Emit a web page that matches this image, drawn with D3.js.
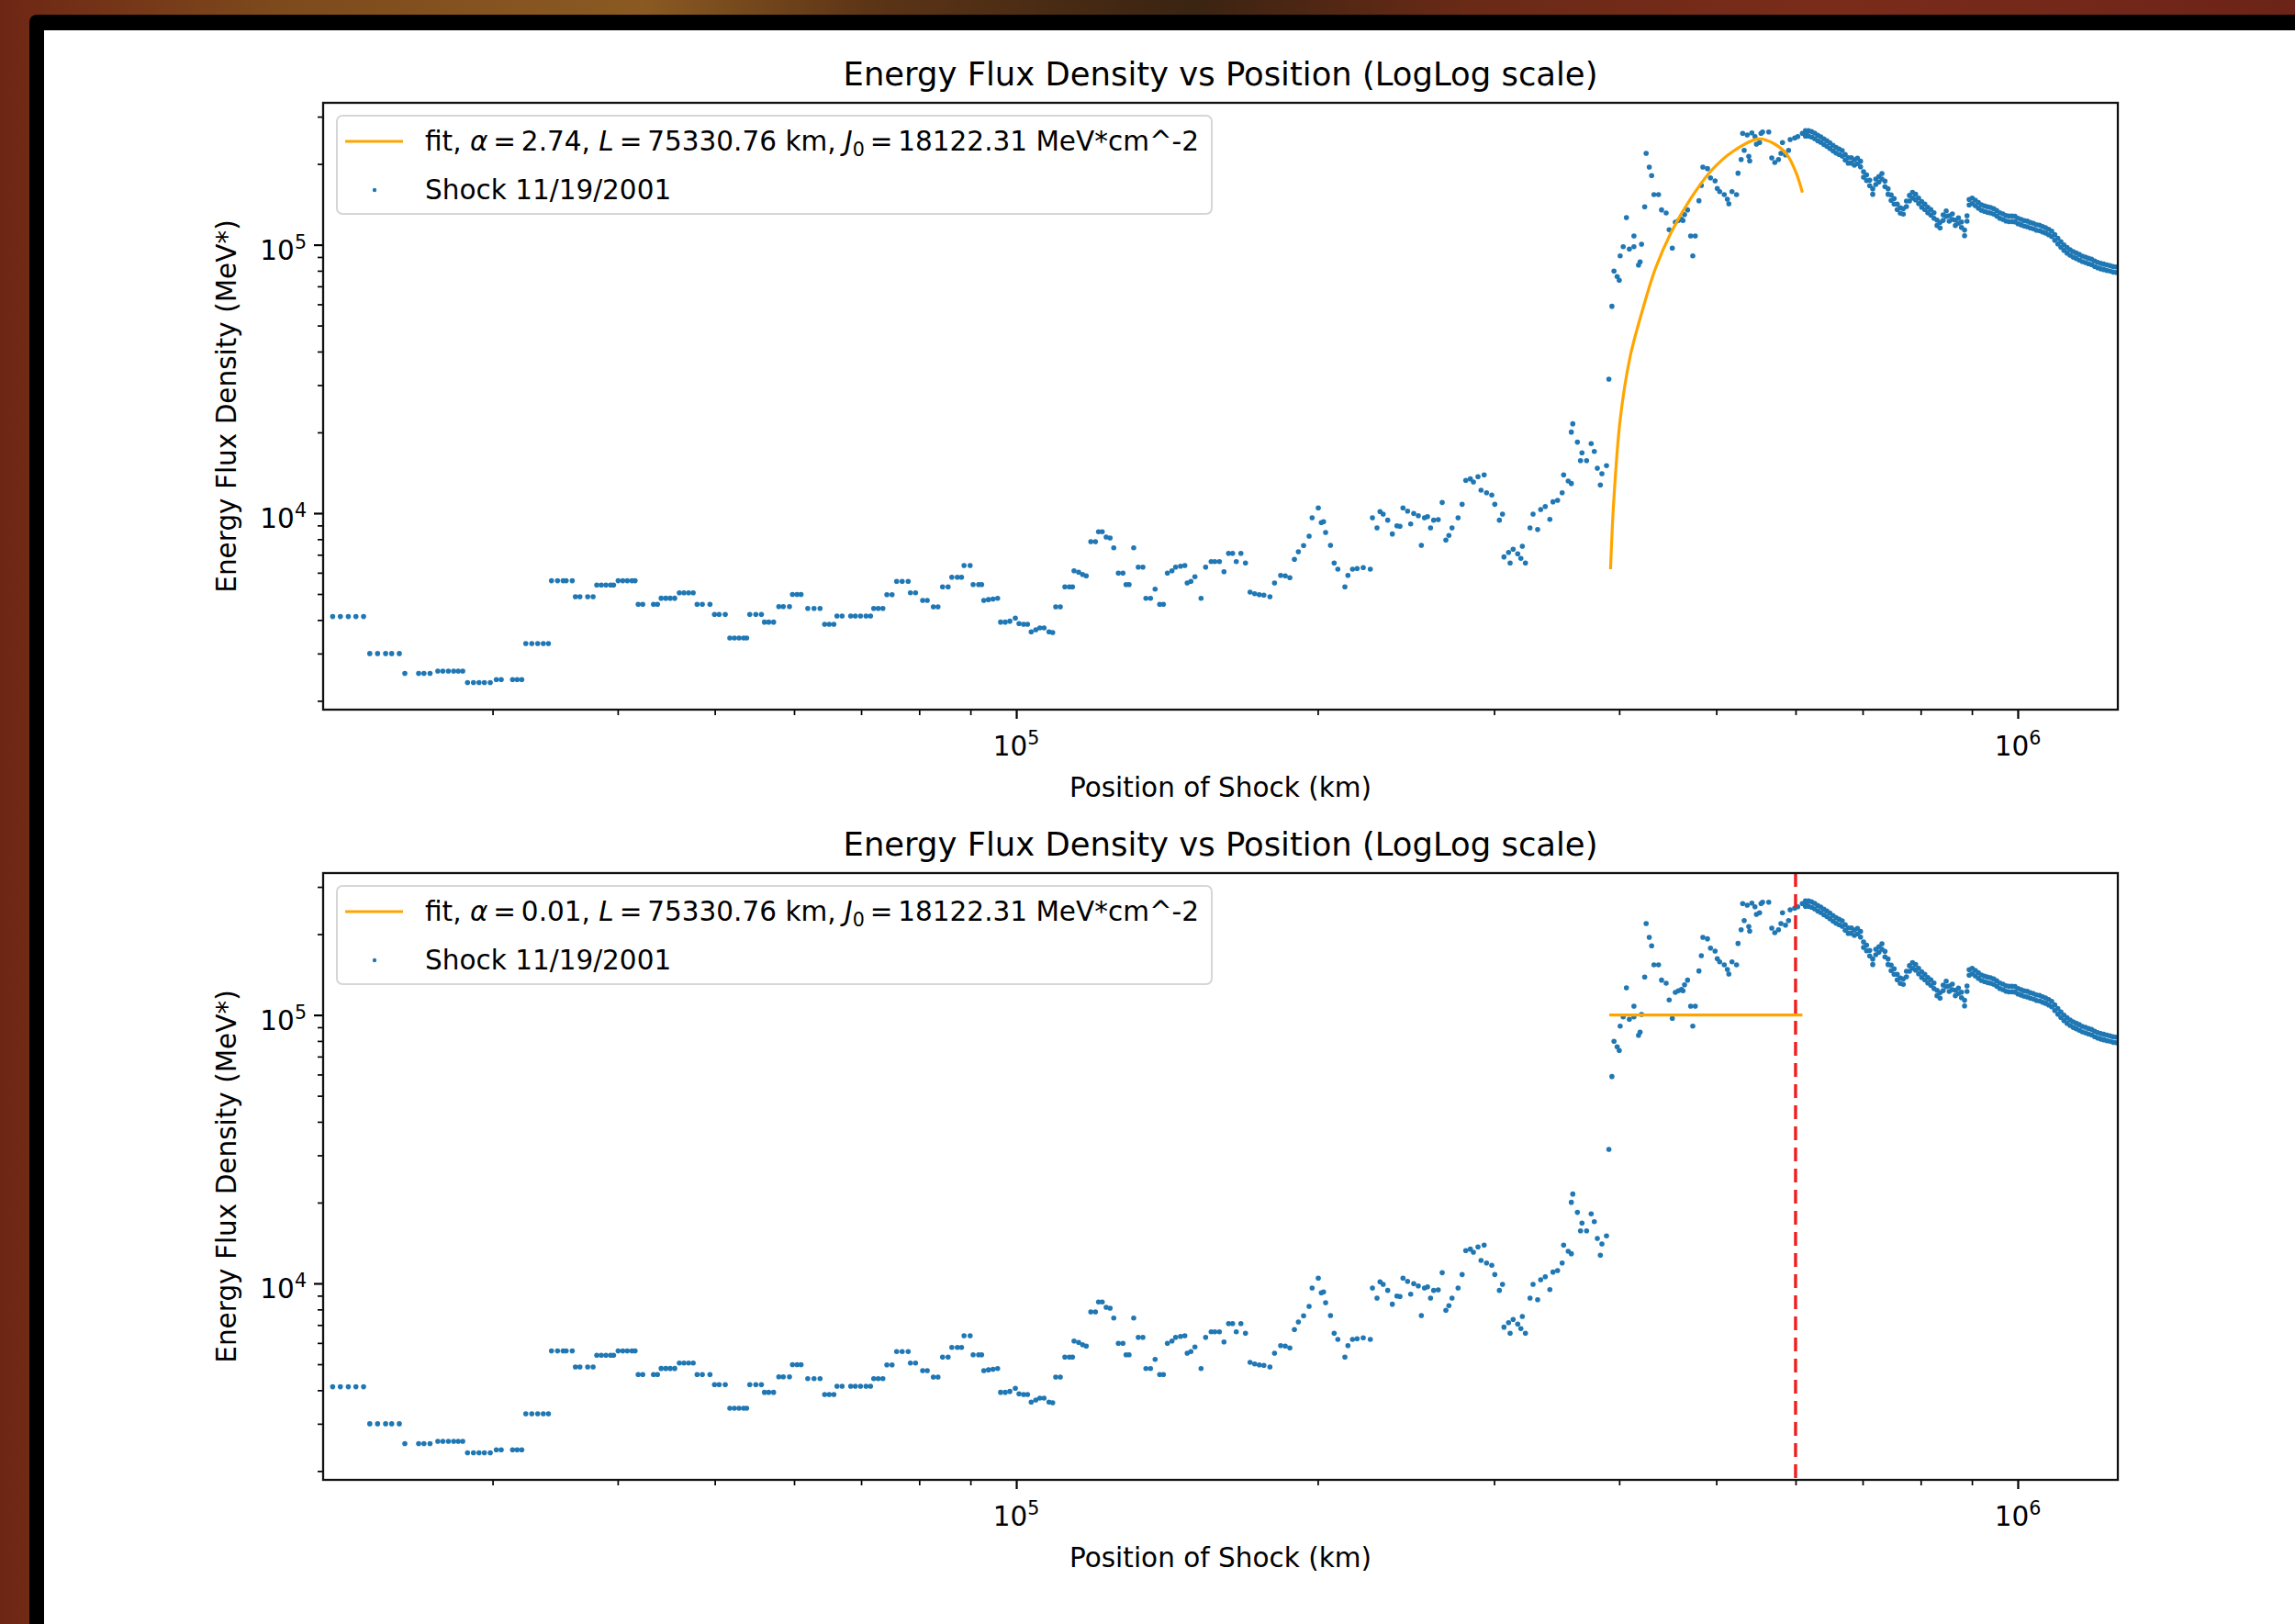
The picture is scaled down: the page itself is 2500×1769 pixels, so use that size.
<!DOCTYPE html>
<html>
<head>
<meta charset="utf-8">
<script src="https://cdn.jsdelivr.net/npm/d3@7"></script>
<style>
  html, body { margin: 0; padding: 0; overflow: hidden; background: #000; }
  svg text { font-family: "DejaVu Sans", sans-serif; fill: #000; }
</style>
</head>
<body>
<div id="chart"></div>
<script>
// ---- data ----
// scattered measurements: position of shock (km) / energy flux density (MeV*)
const posKm = [
  20770, 21140, 21530, 21910, 22300,
  22620, 23030, 23460, 23790, 24210,
  24520, 25310, 25620, 25980,
  26450, 26760, 27100, 27430, 27720, 28010,
  28320, 28710, 29080, 29440, 29840,
  30260, 30600, 31410, 31740, 32080,
  32380, 32830, 33280, 33710, 34110,
  34350, 34830, 35280, 35530, 36030,
  36290, 36670, 37330, 37800,
  38120, 38520, 38930, 39350, 39620,
  40040, 40470, 40890, 41330, 41630,
  41930, 42370, 43430, 43830,
  44200, 44670, 45130, 45600,
  46090, 46580, 47080, 47580,
  48010, 48590, 49450,
  49970, 50500, 51220,
  51760, 52310, 52870, 53430, 53800,
  54190, 54950, 55660,
  56050, 56600, 57240,
  57930, 58530, 59370,
  59780, 60410, 60970,
  61920, 62820, 63690,
  64370, 65050, 65750,
  66220, 67000, 68340, 69070, 69900, 70790, 71530,
  72060, 72810, 73590,
  74270, 75160,
  75960, 76930, 78000,
  78400, 79330,
  80640, 81500,
  82650, 83530,
  84420, 85500,
  86230, 87330, 88180,
  88690, 89940,
  90560, 91710, 92350,
  92810, 93800, 94800, 95810,
  96470, 97500, 98540, 99790, 100640, 101700, 102630,
  103500, 104600, 105570, 106600, 107820, 108740,
  109500, 110660,
  111830, 113000, 113800,
  114210, 115420, 116470, 117460,
  118700, 119970,
  120830, 121850,
  122960, 124080,
  125130,
  126460, 127800,
  128720, 129620,
  131000,
  132390, 133800,
  134730, 136160,
  137610,
  139070, 140250,
  141550, 143050, 144260, 145890, 147340,
  148150, 149410, 150800,
  152940,
  154560, 156530, 157860, 159530,
  161220,
  162930, 164450, 167610,
  165840, 169390,
  171190, 173010, 174850, 176700,
  179180,
  181080, 183660, 185600, 187570,
  189560, 191290, 193600, 196070,
  197440, 200250, 201650, 202680,
  203660, 205950, 207700, 209460,
  212890, 214370, 216650, 218950, 222060, 225700,
  226800, 229200, 230800, 232460, 234920, 237420, 239940, 241620,
  243310, 245890, 247660, 249390, 252040, 253800, 255630, 257420, 259220, 261080, 263850, 266260,
  268520, 270400, 272340, 276160, 278740,
  281100, 284080, 286070, 289100, 293220,
  291120, 294840, 298400, 300490, 303670, 305860,
  306890, 310150, 313440, 316760, 320120, 322420, 319040, 311260,
  325840, 328120, 331600, 333920, 337460, 341040, 343500, 347140, 350830,
  352010, 355740, 358300,
  359510, 358300, 363330, 367180, 365950, 371090, 375030, 377730, 380370, 384400, 388480, 383020,
  390600, 393330,
  395240, 398100, 400040,
  400880, 403690, 409430, 413770, 418160, 419660, 421080, 413770, 406680,
  425550, 428620, 430960,
  424120, 433240, 437840,
  440900, 445580,
  448700, 451930, 455090, 458270, 461570, 464800, 468050, 463140,
  471420, 476430, 473720,
  480470, 483110, 484840, 489980, 493400,
  498630, 501160, 503930, 509270, 512940, 514680, 518380, 523880,
  525650, 529440, 533140, 538800, 539940,
  531260, 536890, 542620, 546520, 552320, 556180, 564100, 548360, 554190,
  568030, 572000, 576850, 580150, 586300, 590400,
  582240, 592530, 598810, 603000, 609400, 615860
]
const flux = [
  4120, 4120, 4120, 4120, 4120,
  3000, 3000, 3000, 3000, 3000,
  2530, 2530, 2530, 2530,
  2580, 2580, 2580, 2580, 2580, 2580,
  2340, 2340, 2340, 2340, 2340,
  2400, 2400, 2400, 2400, 2400,
  3270, 3270, 3270, 3270, 3270,
  5600, 5600, 5600, 5600, 5600,
  4885, 4885, 4885, 4885,
  5400, 5400, 5400, 5400, 5400,
  5600, 5600, 5600, 5600, 5600,
  4575, 4575, 4575, 4575,
  4820, 4820, 4820, 4820,
  5050, 5050, 5050, 5050,
  4575, 4575, 4575,
  4196, 4196, 4196,
  3427, 3427, 3427, 3427, 3427,
  4196, 4196, 4196,
  3928, 3928, 3928,
  4489, 4489, 4489,
  4981, 4981, 4981,
  4419, 4419, 4419,
  3857, 3857, 3857,
  4140, 4140, 4140, 4140, 4140, 4140, 4140,
  4419, 4419, 4419,
  4973, 4973,
  5571, 5571, 5571,
  5052, 5052,
  4733, 4733,
  4479, 4479,
  5313, 5313,
  5776, 5776, 5776,
  6384, 6384,
  5424, 5424, 5424,
  4733, 4765, 4790, 4819,
  3928, 3928, 3959, 4066, 3879, 3857, 3857,
  3613, 3680, 3738, 3738, 3613, 3594,
  4479, 4479,
  5313, 5313, 5313,
  6103, 6027, 5914, 5840,
  7834, 7834,
  8523, 8523,
  8149, 8085,
  7432,
  5980, 5980,
  5424, 5424,
  7432,
  6298, 6298,
  4819, 4819,
  5214,
  4575, 4575,
  5980, 6103, 6298, 6349, 6384,
  5497, 5571, 5794,
  4819,
  6298, 6604, 6604, 6604,
  6056,
  7087, 7087, 7087,
  6604, 6521,
  5081, 5013, 4973, 4950,
  4885,
  5497, 5868, 5840, 5749,
  6730, 7184, 7575, 8213,
  9614, 10460, 9222, 9294,
  8475, 7592, 6521, 6185,
  5313, 5868, 6185, 6219, 6268, 6185,
  9614, 8817, 10140, 9923, 9413, 8365, 8977, 8935,
  10460, 10180, 9120, 9977, 9790, 7592, 9614, 9712, 8817, 9413, 9464, 10960,
  7939, 8260, 8817, 9614, 10790,
  13250, 13420, 13070, 13670, 13890,
  12170, 11920, 11680, 10790, 9413, 9923,
  6871, 7145, 7338, 7056, 7532, 6521, 6785, 6521,
  8817, 9923, 8700, 10320, 10590, 9486, 11020, 11170, 11920,
  13890, 13180, 12900,
  21520, 20050, 18390, 16780, 15700, 15700, 18160, 16990, 14710, 14030, 15030, 12740,
  31570, 58960,
  79760, 76080, 73720,
  90900, 98360, 96360, 98360, 84030, 86300, 100460, 107840, 126250,
  219090, 194740, 180920,
  138450, 153750, 153750,
  134790, 131330,
  113680, 97120, 121370, 122990, 124550, 129560, 134790, 122990,
  107840, 107840, 90900,
  145830, 166350, 194740, 192130, 177550,
  172980, 162040, 157770, 153750, 147780, 142080, 157770, 153750,
  184700, 207800, 224860, 213470, 205190,
  259890, 256440, 261150, 253060, 240250, 263200, 263200, 237060, 259890,
  210580, 202460, 207800, 219090, 216170, 224860,
  240250, 246520, 249830, 253060, 259890, 256440
]

// dense decay after the peak: position and the upper / lower edge of the band of points
const tailKm = [
  613800, 618100, 622400, 626900, 631300, 635700, 640200, 644700, 649200, 653900,
  658500, 663100, 667900, 672500, 677200, 682100, 686900, 691700, 696700, 701500,
  706400, 711500, 716500, 721500, 726700, 731800, 736900, 742200, 747400, 752600,
  758000, 763300, 768600, 774200, 779600, 785000, 790700, 796200, 801800, 807600,
  813200, 818900, 824800, 830600, 836400, 842400, 848300, 854200, 860400, 866400,
  872500, 878700, 884900, 889900, 894300, 900500, 907000, 913400, 919800, 926400,
  932900, 939400, 946200, 952800, 959500, 966400, 973200, 979700, 986800, 993700,
  1000600, 1007900, 1014900, 1022000, 1029300, 1036500, 1043800, 1051300, 1058700, 1066000,
  1073700, 1081200, 1088800, 1096600, 1104300, 1112000, 1120000, 1127900, 1135800, 1144000,
  1152000, 1160000, 1168400, 1176600, 1184800, 1193400, 1201700, 1210100, 1218800, 1227400,
  1235900, 1244800, 1253500
]
const tailHi = [
  266100, 266100, 264000, 260500, 255800, 252400, 247900, 244000, 239500, 234600,
  230300, 227300, 224400, 216900, 211100, 211100, 207400, 210100, 204600, 187200,
  181900, 174000, 161600, 175700, 179500, 184200, 172600, 161600, 153400, 148700,
  141800, 137400, 136300, 145500, 152600, 156600, 154100, 149300, 144700, 141800,
  138000, 135200, 131600, 123600, 121100, 129200, 133700, 128200, 130300, 123600,
  125900, 121600, 113400, 128200, 147500, 149300, 146600, 143600, 141000, 139600,
  138400, 137700, 136300, 134100, 131600, 130300, 128500, 127900, 127900, 127600,
  125500, 124300, 123000, 122400, 121100, 120100, 118800, 118300, 116900, 115800,
  114200, 112400, 109000, 105600, 102600, 99900, 97600, 95800, 94300, 93100,
  92000, 90700, 90000, 89100, 88400, 87000, 86000, 85200, 84700, 84100,
  83700, 82900, 82700
]
const tailLo = [
  253800, 253800, 251800, 248400, 243900, 240700, 236400, 232700, 228400, 223700,
  219600, 216800, 214000, 206800, 201400, 201400, 197800, 200400, 195100, 178500,
  173400, 165900, 154100, 167600, 171200, 175700, 164600, 154100, 146300, 141800,
  135300, 131100, 130000, 138800, 145500, 149300, 147000, 142400, 138000, 135300,
  131600, 128900, 125500, 117900, 115500, 123200, 127500, 122300, 124200, 117900,
  120100, 116000, 108100, 122300, 140600, 142400, 139800, 136900, 134500, 133100,
  132000, 131300, 130000, 127900, 125500, 124200, 122600, 122000, 122000, 121700,
  119700, 118600, 117300, 116700, 115500, 114600, 113300, 112800, 111500, 110500,
  108900, 107200, 103900, 100700, 97900, 95300, 93100, 91400, 89900, 88800,
  87700, 86500, 85800, 85000, 84300, 83000, 82000, 81300, 80800, 80200,
  79800, 79100, 78900
]

// fitted curve, top panel (alpha = 2.74)
const fitKm = [392100, 395000, 400900, 409900, 422200, 434900, 451300, 471700,
  493200, 519400, 551000, 572000, 588500, 601000, 609500]
const fitFlux = [6185, 11080, 22330, 37850, 57440, 81870, 112200, 148950,
  187200, 222600, 247900, 237000, 216200, 184700, 156500]
// fitted curve, bottom panel (alpha = 0.01) is flat
const fit2Km = [391000, 609500]
const fit2Flux = [100000, 100000]
const cutoffKm = 600000

const alphaLabels = ["2.74", "0.01"]
const xMajor = [1e5, 1e6]
const xMinor = [3e4, 4e4, 5e4, 6e4, 7e4, 8e4, 9e4, 2e5, 3e5, 4e5, 5e5, 6e5, 7e5, 8e5, 9e5]
const yMajor = [1e4, 1e5]
const yMinor = [2e3, 3e3, 4e3, 5e3, 6e3, 7e3, 8e3, 9e3, 2e4, 3e4, 4e4, 5e4, 6e4, 7e4, 8e4, 9e4, 2e5, 3e5]

// ---- layout ----
const width = 2500, height = 1769
const left = 352, right = 2307, ph = 661
const tops = [112, 951]
const blue = "#1f77b4", orange = "#ffa500"
const fs = 29.5
const thin = "\u2009"

const svg = d3.select("#chart").append("svg")
  .attr("width", width).attr("height", height)

// photo-like backdrop behind the screenshot frame
const defs = svg.append("defs")
const bg = defs.append("linearGradient").attr("id", "bg")
  .attr("x1", "0%").attr("y1", "0%").attr("x2", "100%").attr("y2", "0%")
;[["0%", "#6e2614"], ["12%", "#7d4a1c"], ["28%", "#8a5a22"], ["38%", "#5c3416"],
  ["52%", "#3a2412"], ["64%", "#6a2a16"], ["80%", "#7a2c1a"], ["100%", "#6c2418"]]
  .forEach(s => bg.append("stop").attr("offset", s[0]).attr("stop-color", s[1]))
svg.append("rect").attr("width", width).attr("height", height).attr("fill", "url(#bg)")
svg.append("rect").attr("x", 32).attr("y", 16).attr("rx", 8)
  .attr("width", width).attr("height", height).attr("fill", "#000")
svg.append("rect").attr("x", 48).attr("y", 33)
  .attr("width", width).attr("height", height).attr("fill", "#fff")

const x = d3.scaleLog().domain([20320, 1258700]).range([left, right])

const points = posKm.map((p, i) => [p, flux[i]])
const tailPts = tailKm.map((p, i) => [p, tailHi[i]])
  .concat(tailKm.map((p, i) => [p, tailLo[i]]))

tops.forEach((top, k) => {
  const bottom = top + ph
  const y = d3.scaleLog().domain([1854, 337800]).range([bottom, top])
  const g = svg.append("g")

  defs.append("clipPath").attr("id", "clip" + k)
    .append("rect").attr("x", left).attr("y", top)
    .attr("width", right - left).attr("height", ph)

  const plot = g.append("g").attr("clip-path", "url(#clip" + k + ")")

  // scatter
  plot.selectAll("circle.pt")
    .data(points.concat(tailPts))
    .enter().append("circle")
    .attr("class", "pt")
    .attr("cx", d => x(d[0]))
    .attr("cy", d => y(d[1]))
    .attr("r", 2.8)
    .style("fill", blue)

  // fit
  const fx = k === 0 ? fitKm : fit2Km
  const fy = k === 0 ? fitFlux : fit2Flux
  const line = d3.line()
    .x(d => x(d[0])).y(d => y(d[1]))
    .curve(d3.curveCatmullRom.alpha(0.5))
  plot.append("path")
    .datum(fx.map((v, i) => [v, fy[i]]))
    .attr("d", line)
    .style("fill", "none").style("stroke", orange).style("stroke-width", 3.2)

  if (k === 1) {
    plot.append("line")
      .attr("x1", x(cutoffKm)).attr("x2", x(cutoffKm))
      .attr("y1", top).attr("y2", bottom)
      .style("stroke", "#f01e1e").style("stroke-width", 3.4)
      .style("stroke-dasharray", "15,8")
  }

  // ticks
  const xAxisMaj = d3.axisBottom(x).tickValues(xMajor).tickSize(10).tickFormat("")
  const xAxisMin = d3.axisBottom(x).tickValues(xMinor).tickSize(6).tickFormat("")
  const yAxisMaj = d3.axisLeft(y).tickValues(yMajor).tickSize(10).tickFormat("")
  const yAxisMin = d3.axisLeft(y).tickValues(yMinor).tickSize(6).tickFormat("")
  ;[[xAxisMaj, "0," + bottom, 2.2], [xAxisMin, "0," + bottom, 1.7],
    [yAxisMaj, left + ",0", 2.2], [yAxisMin, left + ",0", 1.7]].forEach(a => {
    const ax = g.append("g").attr("transform", "translate(" + a[1] + ")").call(a[0])
    ax.select(".domain").remove()
    ax.selectAll("line").style("stroke", "#000").style("stroke-width", a[2])
  })

  // frame
  g.append("rect").attr("x", left).attr("y", top)
    .attr("width", right - left).attr("height", ph)
    .style("fill", "none").style("stroke", "#111").style("stroke-width", 2.3)

  // tick labels like 10^5
  xMajor.forEach(v => {
    const t = g.append("text").attr("x", x(v)).attr("y", bottom + 50)
      .attr("text-anchor", "middle").style("font-size", fs + "px")
    t.append("tspan").text("10")
    t.append("tspan").attr("dy", -12).style("font-size", "20.6px").text(Math.round(Math.log10(v)))
  })
  yMajor.forEach(v => {
    const t = g.append("text").attr("x", 334).attr("y", y(v) + 16)
      .attr("text-anchor", "end").style("font-size", fs + "px")
    t.append("tspan").text("10")
    t.append("tspan").attr("dy", -12).style("font-size", "20.6px").text(Math.round(Math.log10(v)))
  })

  // labels
  g.append("text").attr("x", (left + right) / 2).attr("y", top - 19)
    .attr("text-anchor", "middle").style("font-size", "35.4px")
    .text("Energy Flux Density vs Position (LogLog scale)")
  g.append("text").attr("x", (left + right) / 2).attr("y", bottom + 95)
    .attr("text-anchor", "middle").style("font-size", fs + "px")
    .text("Position of Shock (km)")
  g.append("text")
    .attr("transform", "translate(257," + (top + ph / 2) + ") rotate(-90)")
    .attr("text-anchor", "middle").style("font-size", fs + "px")
    .text("Energy Flux Density (MeV*)")

  // legend
  const lg = g.append("g").attr("transform", "translate(367," + (top + 14) + ")")
  lg.append("rect").attr("width", 953).attr("height", 107).attr("rx", 6)
    .style("fill", "#fff").style("fill-opacity", 0.8)
    .style("stroke", "#d6d6d6").style("stroke-width", 2)
  lg.append("line").attr("x1", 9).attr("x2", 72).attr("y1", 28).attr("y2", 28)
    .style("stroke", orange).style("stroke-width", 3.2)
  const lt = lg.append("text").attr("x", 96).attr("y", 38).style("font-size", fs + "px")
  lt.append("tspan").text("fit, ")
  lt.append("tspan").style("font-style", "italic").text("\u03b1")
  lt.append("tspan").text(thin + "=" + thin + alphaLabels[k] + ", ")
  lt.append("tspan").style("font-style", "italic").text("L")
  lt.append("tspan").text(thin + "=" + thin + "75330.76 km, ")
  lt.append("tspan").style("font-style", "italic").text("J")
  lt.append("tspan").attr("dy", 6).style("font-size", "20.6px").text("0")
  lt.append("tspan").attr("dy", -6).text(thin + "=" + thin + "18122.31 MeV*cm^-2")
  lg.append("circle").attr("cx", 41).attr("cy", 81).attr("r", 2.2).style("fill", blue)
  lg.append("text").attr("x", 96).attr("y", 91).style("font-size", fs + "px")
    .text("Shock 11/19/2001")
})
</script>
</body>
</html>
